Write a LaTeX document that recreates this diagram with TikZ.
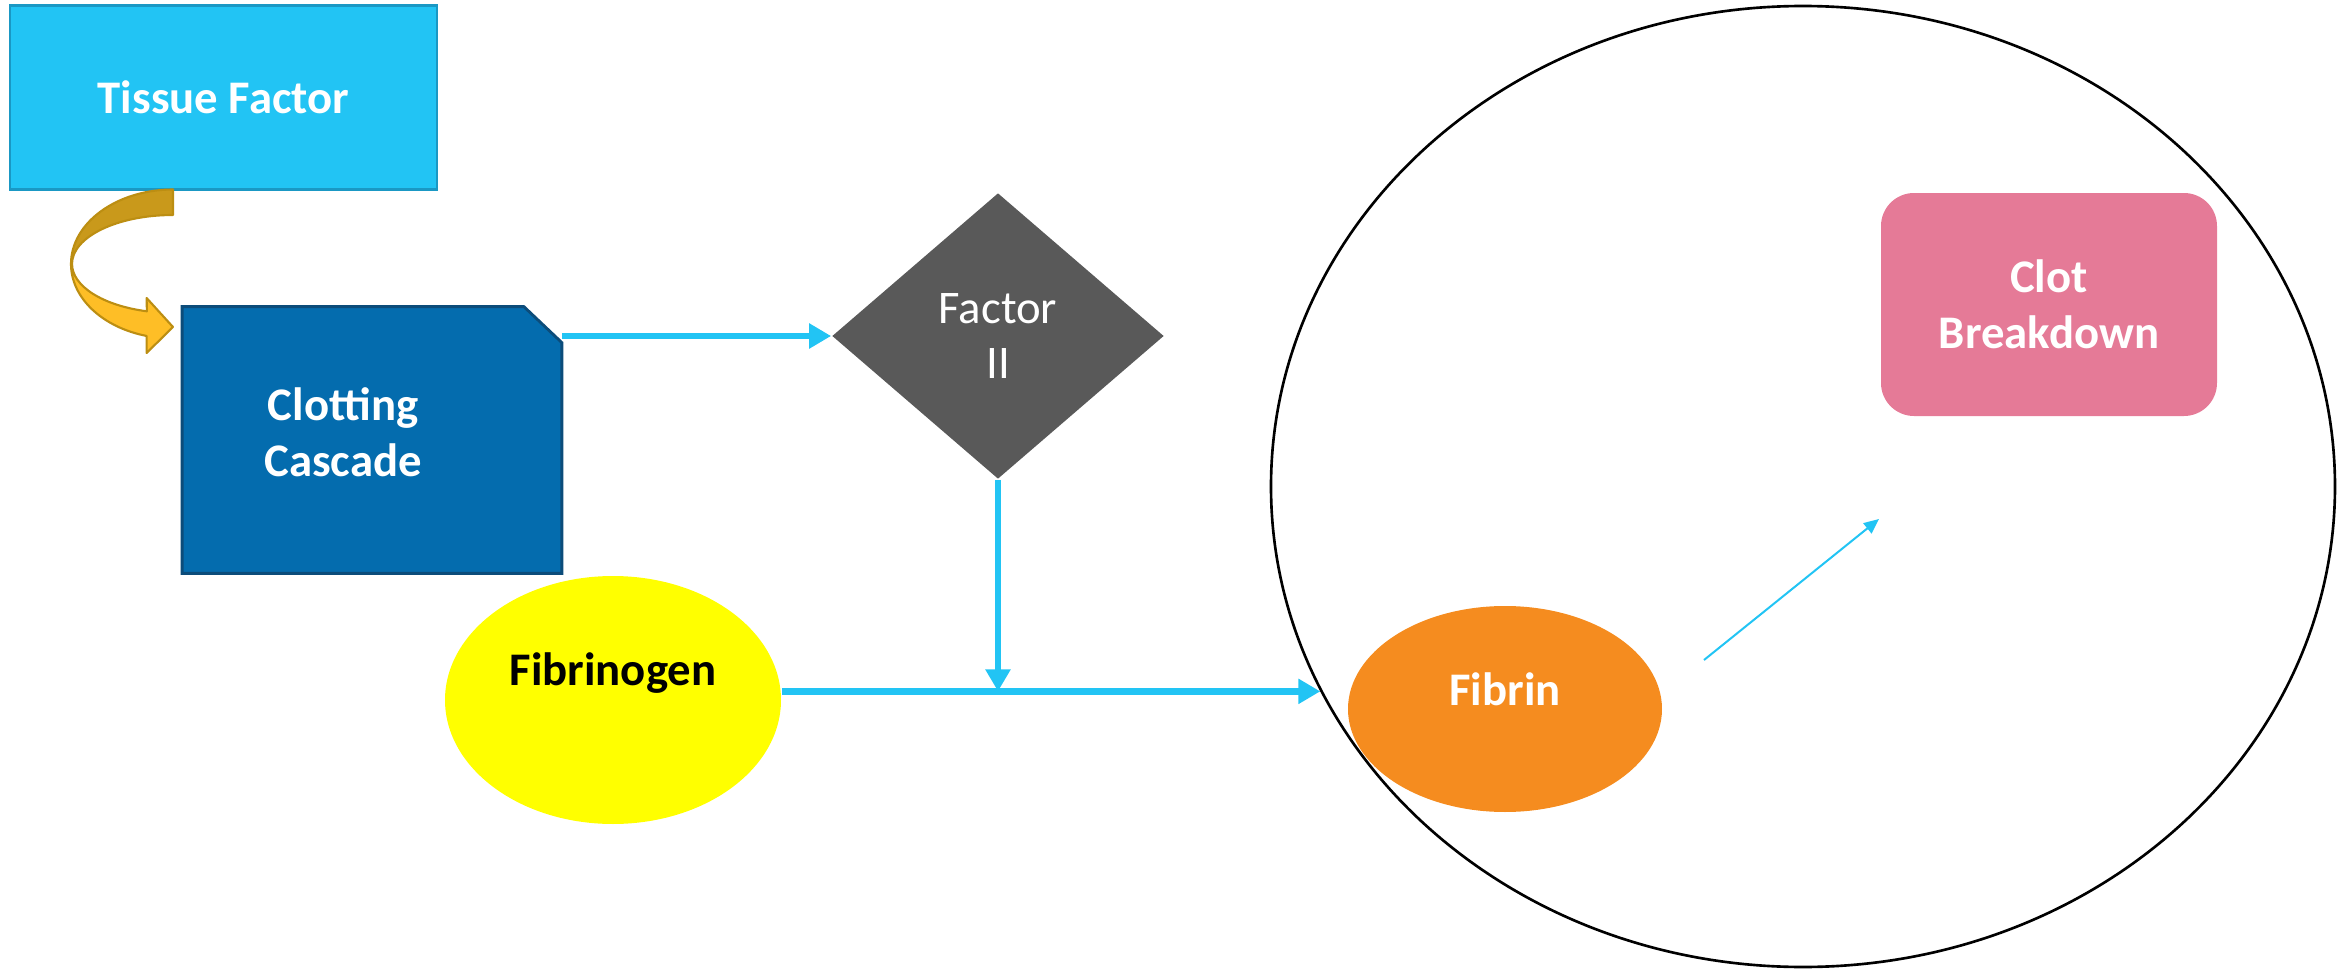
\documentclass[tikz,border=0pt]{standalone}
\usepackage{fontspec}
\setmainfont{Carlito}
\usetikzlibrary{arrows.meta,shapes.geometric}
\definecolor{sky}{RGB}{34,196,244}
\definecolor{skyedge}{RGB}{26,152,196}
\definecolor{navy}{RGB}{4,108,174}
\definecolor{navyedge}{RGB}{12,76,122}
\definecolor{slate}{RGB}{89,89,89}
\definecolor{lemon}{RGB}{255,255,0}
\definecolor{amber}{RGB}{245,140,31}
\definecolor{rose}{RGB}{229,122,151}
\definecolor{gold}{RGB}{254,190,38}
\definecolor{golddark}{RGB}{201,153,27}
\definecolor{goldedge}{RGB}{188,142,18}
\tikzset{
  every picture/.style={line width=0.5pt},
  txt/.style={font=\fontsize{13.3}{15.9}\selectfont\bfseries, text=white, align=center, inner sep=0pt},
  tissue/.style={txt, rectangle, draw=skyedge, fill=sky, line width=0.8pt, minimum width=42.7mm, minimum height=18.4mm},
  cascade/.style={rectangle, minimum width=37.8mm, minimum height=26.5mm, inner sep=0pt},
  snip/.style={draw=navyedge, fill=navy, line width=0.8pt},
  gate/.style={txt, diamond, fill=slate, font=\fontsize{13.3}{15.9}\selectfont, minimum width=33.2mm, minimum height=28.6mm},
  blob/.style={ellipse, inner sep=0pt},
  ring/.style={ellipse, draw=black, line width=0.75pt, minimum width=106.4mm, minimum height=96.1mm, inner sep=0pt},
  soft box/.style={txt, rectangle, rounded corners=3.3mm, fill=rose, minimum width=33.6mm, minimum height=22.3mm},
  flow/.style={-{Triangle[length=2.2mm,width=2.4mm]}, draw=sky, line width=0.65mm},
  faint/.style={-{Triangle[length=1.5mm,width=1.3mm]}, draw=sky, line width=0.2mm},
}

\begin{document}
\begin{tikzpicture}[x=0.1mm, y=-0.1mm]
  \useasboundingbox (0,0) rectangle (2346,969);
  % clot region
  \node[ring] (clot) at (1803,486.5) {};
  % nodes
  \node[tissue] (tissue) at (223.5,97.5) {Tissue Factor};
  \node[cascade] (cascade) at (372,440) {};
  \filldraw[snip] (cascade.south west) -- (cascade.north west)
    -- ([xshift=-3.8mm]cascade.north east) -- ([yshift=-3.6mm]cascade.north east)
    -- (cascade.south east) -- cycle;
  \node[txt] (cascadetext) at ([xshift=-2.9mm, yshift=0.8mm]cascade.center) {Clotting\\Cascade};
  \node[gate] (factor) at (998,336) {Factor\\II};
  \node[blob, fill=lemon, minimum width=33.6mm, minimum height=24.8mm,
    label={[txt, text=black, yshift=2.7mm]center:Fibrinogen}] (fibrinogen) at (613,700) {};
  \node[blob, fill=amber, minimum width=31.4mm, minimum height=20.6mm,
    label={[txt, yshift=2mm]center:Fibrin}] (fibrin) at (1505,709) {};
  \node[soft box] (breakdown) at (2049,304.5) {Clot\\Breakdown};
  % curved block arrow
  \begin{scope}[shift={(173,264)}, draw=goldedge, line width=0.6pt, line join=round]
    \filldraw[fill=golddark] (0,-74.5) arc[start angle=270, end angle=180, x radius=102, y radius=74.5]
      -- (-101,0) arc[start angle=180, end angle=270, x radius=101, y radius=49] -- cycle;
    \filldraw[fill=gold] (-102,0) arc[start angle=180, end angle=105, x radius=102, y radius=74.5]
      -- (-26.4,89) -- (0,63) -- (-26.4,34) -- (-26.1,47.3)
      arc[start angle=105, end angle=180, x radius=101, y radius=49] -- cycle;
  \end{scope}
  % connectors
  \draw[flow] (cascade.east |- factor.west) -- (factor.west);
  \draw[flow] (factor.south) -- (factor.south |- clot.203);
  \draw[flow] (fibrinogen.east |- clot.203) -- (clot.203);
  \coordinate (fibout) at (1704,660);
  \coordinate (breakin) at (1879,519);
  \draw[faint] (fibout) -- (breakin);
\end{tikzpicture}
\end{document}
